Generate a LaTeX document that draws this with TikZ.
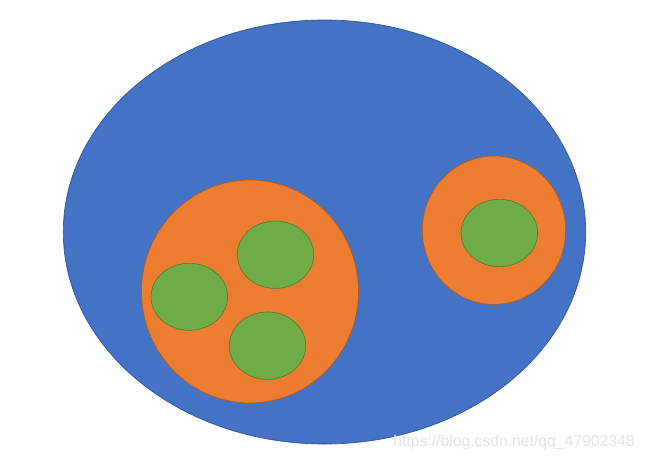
\documentclass[tikz,border=0pt]{standalone}
\usepackage{fontspec}
\setmainfont{Liberation Sans}
\definecolor{bluefill}{HTML}{4472C4}
\definecolor{blueedge}{HTML}{2F528F}
\definecolor{orangefill}{HTML}{ED7D31}
\definecolor{orangeedge}{HTML}{AE5A21}
\definecolor{greenfill}{HTML}{70AD47}
\definecolor{greenedge}{HTML}{507E32}
\definecolor{wmark}{HTML}{E4E4E4}
\begin{document}
\begin{tikzpicture}[x=0.75pt,y=-0.75pt,
  bluebody/.style={fill=bluefill,draw=blueedge,line width=0.5pt},
  orangebody/.style={fill=orangefill,draw=orangeedge,line width=0.5pt},
  greenbody/.style={fill=greenfill,draw=greenedge,line width=0.5pt}]
\fill[white] (0,0) rectangle (645,460);
\useasboundingbox (0,0) rectangle (645,460);
\draw[bluebody] (324.5,232) ellipse [x radius=261.2, y radius=212];
\draw[orangebody] (250,291.5) ellipse [x radius=108.5, y radius=111.5];
\draw[orangebody] (494,230.2) ellipse [x radius=71.7, y radius=74.2];
\draw[greenbody] (275.5,254.7) ellipse [x radius=38.2, y radius=33.7];
\draw[greenbody] (189.3,296.8) ellipse [x radius=38.3, y radius=33.5];
\draw[greenbody] (267.5,345.7) ellipse [x radius=38.2, y radius=33.7];
\draw[greenbody] (499.3,233) ellipse [x radius=38.3, y radius=33.7];
\node[anchor=base east,inner sep=0pt,text=wmark,font=\fontsize{11.8pt}{13pt}\selectfont] (wm) at (635,446.5) {https://blog.csdn.net/qq\_47902348};
\end{tikzpicture}
\end{document}
